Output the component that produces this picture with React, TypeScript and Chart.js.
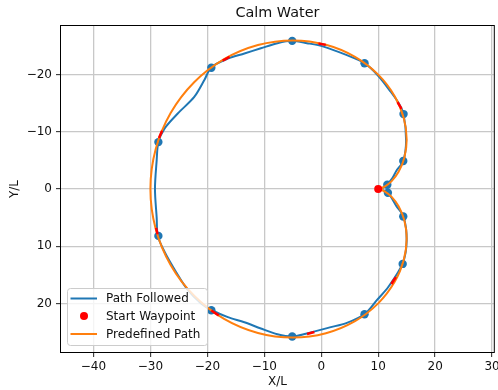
import React, { useEffect, useRef } from "react";
import { Chart, registerables } from "chart.js";

Chart.register(...registerables);

// Axis ticks (X/L, Y/L)
const xTicks = [-40, -30, -20, -10, 0, 10, 20, 30];
const yTicks = [-20, -10, 0, 10, 20];
const xRange = [-45.7, 30.3];
const yRange = [-28.5, 28.5];

// Predefined path
const predefinedX = [
  10.0, 10.3, 11.13, 12.32, 13.58, 14.59, 15.0, 14.5, 12.87, 10.0, 5.93, 0.82, -5.0,
  -11.12, -17.06, -22.32, -26.45, -29.09, -30.0, -29.09, -26.45, -22.32, -17.06, -11.12,
  -5.0, 0.82, 5.93, 10.0, 12.87, 14.5, 15.0, 14.59, 13.58, 12.32, 11.13, 10.3, 10.0,
];
const predefinedY = [
  0.0, -0.05, -0.41, -1.34, -3.01, -5.47, -8.66, -12.37, -16.28, -20.0, -23.11, -25.22,
  -25.98, -25.17, -22.7, -18.66, -13.27, -6.89, 0.0, 6.89, 13.27, 18.66, 22.7, 25.17,
  25.98, 25.22, 23.11, 20.0, 16.28, 12.37, 8.66, 5.47, 3.01, 1.34, 0.41, 0.05, 0.0,
];

// Path followed
const followedX = [
  10.0, 11.0, 11.6, 12.5, 13.2, 14.4, 14.9, 14.45, 13.6, 12.2, 10.0, 7.6, 4.5, 0.4, -2.5,
  -5.1, -7.7, -10.6, -13.5, -16.4, -19.3, -20.5, -22.3, -25.2, -27.5, -28.6, -28.9, -29.2,
  -28.9, -28.7, -27.5, -25.5, -23.4, -21.1, -19.2, -16.4, -13.5, -10.6, -7.7, -5.1, -2.7,
  1.5, 4.5, 7.7, 9.8, 11.8, 14.3, 15.0, 14.45, 13.2, 11.7, 10.8,
];
const followedY = [
  0.0, -0.3, -0.8, -1.9, -3.2, -4.9, -8.5, -13.1, -15.0, -17.0, -19.8, -22.0, -23.4, -24.9,
  -25.5, -25.9, -25.5, -24.6, -23.7, -22.8, -21.3, -19.1, -16.1, -13.2, -10.6, -8.2, -5.0,
  0.0, 5.0, 8.2, 11.0, 14.5, 17.7, 20.0, 21.2, 22.4, 23.3, 24.4, 25.4, 25.8, 25.3, 24.2,
  23.4, 21.8, 19.4, 17.1, 13.0, 9.0, 4.8, 3.0, 0.6, 0.2,
];

// Waypoints along the route
const waypointX = [11.6, 14.4, 14.45, 7.6, -5.1, -19.3, -28.6, -28.6, -19.3, -5.1, 7.6, 14.3, 14.4, 11.7];
const waypointY = [-0.75, -4.9, -13.1, -22.0, -25.9, -21.2, -8.2, 8.2, 21.2, 25.8, 21.9, 13.1, 4.8, 0.65];

const startX = [10.0];
const startY = [0.0];

// Short red segments on the route: [x1, y1, x2, y2]
const redMarks: number[][] = [
  [-17.3, -22.45, -16.1, -23.1],
  [-0.5, -25.45, 0.8, -25.2],
  [13.4, -15.2, 14.1, -14.0],
  [-28.5, -8.9, -27.95, -10.2],
  [-29.0, 6.8, -28.75, 7.9],
  [-19.3, 21.25, -18.0, 22.1],
  [-2.5, 25.35, -1.2, 25.0],
  [12.3, 16.6, 13.1, 15.4],
];

const BLUE = "#1f77b4";
const ORANGE = "#ff7f0e";
const RED = "#ff0000";
const FONT = "'DejaVu Sans', sans-serif";
const TEXT = "#111111";

const legendItems = [
  { label: "Path Followed", kind: "line", color: BLUE },
  { label: "Start Waypoint", kind: "dot", color: RED },
  { label: "Predefined Path", kind: "line", color: ORANGE },
];

const fmt = (v: number) => (v < 0 ? "\u2212" + Math.abs(v) : String(v));

const pts = (xs: number[], ys: number[]) => xs.map((x, i) => ({ x, y: ys[i] }));

const decorations = {
  id: "decorations",
  afterDraw(chart: any) {
    const { ctx, chartArea } = chart;
    const { left, right, top, bottom } = chartArea;
    ctx.save();

    // legend box
    const lx = 67, ly = 288.5, lw = 140, lh = 57;
    ctx.beginPath();
    ctx.roundRect(lx + 0.5, ly, lw, lh, 3);
    ctx.fillStyle = "rgba(255,255,255,0.8)";
    ctx.fill();
    ctx.strokeStyle = "#cccccc";
    ctx.lineWidth = 1;
    ctx.stroke();
    const rows = [298.5, 316, 334];
    ctx.font = `12px ${FONT}`;
    ctx.textBaseline = "middle";
    ctx.textAlign = "left";
    legendItems.forEach((it, i) => {
      const y = rows[i];
      if (it.kind === "line") {
        ctx.beginPath();
        ctx.moveTo(70.5, y);
        ctx.lineTo(97, y);
        ctx.strokeStyle = it.color;
        ctx.lineWidth = 2;
        ctx.stroke();
      } else {
        ctx.beginPath();
        ctx.arc(84, y, 4, 0, Math.PI * 2);
        ctx.fillStyle = it.color;
        ctx.fill();
      }
      ctx.fillStyle = TEXT;
      ctx.fillText(it.label, 106, y + 0.5);
    });

    // frame
    ctx.strokeStyle = "#000000";
    ctx.lineWidth = 1;
    ctx.strokeRect(left - 0.5, top - 0.5, right - left + 1, bottom - top + 1);

    // title and axis labels
    ctx.fillStyle = TEXT;
    ctx.textAlign = "center";
    ctx.textBaseline = "middle";
    ctx.font = `14.4px ${FONT}`;
    ctx.fillText("Calm Water", (left + right) / 2, 13.5);
    ctx.font = `12px ${FONT}`;
    ctx.fillText("X/L", (left + right) / 2, 382);
    ctx.translate(15, (top + bottom) / 2);
    ctx.rotate(-Math.PI / 2);
    ctx.fillText("Y/L", 0, 0);
    ctx.restore();
  },
};

export default function App() {
  const ref = useRef<HTMLCanvasElement | null>(null);

  useEffect(() => {
    if (!ref.current) return;
    const gridStyle = {
      color: "#c8c8c8",
      lineWidth: 1.3,
      tickLength: 5,
      tickColor: "#222222",
      tickWidth: 1,
    };
    const tickFont = { family: FONT, size: 12 };

    const markSets = redMarks.map((m) => ({
      data: [
        { x: m[0], y: m[1] },
        { x: m[2], y: m[3] },
      ],
      showLine: true,
      borderColor: RED,
      borderWidth: 2.5,
      pointRadius: 0,
      order: 0,
    }));

    const chart = new Chart(ref.current, {
      type: "scatter",
      data: {
        datasets: [
          ...markSets,
          {
            label: "Start Waypoint",
            data: pts(startX, startY),
            pointRadius: 4,
            pointBackgroundColor: RED,
            pointBorderWidth: 0,
            showLine: false,
            order: 1,
          },
          {
            label: "Predefined Path",
            data: pts(predefinedX, predefinedY),
            showLine: true,
            borderColor: ORANGE,
            borderWidth: 2,
            tension: 0.35,
            pointRadius: 0,
            order: 2,
          },
          {
            label: "Waypoints",
            data: pts(waypointX, waypointY),
            pointRadius: 4.2,
            pointBackgroundColor: BLUE,
            pointBorderWidth: 0,
            showLine: false,
            order: 3,
          },
          {
            label: "Path Followed",
            data: pts(followedX, followedY),
            showLine: true,
            borderColor: BLUE,
            borderWidth: 2,
            tension: 0.3,
            pointRadius: 0,
            order: 4,
          },
        ],
      },
      options: {
        animation: false,
        responsive: false,
        layout: { padding: { top: 26, right: 2, bottom: 0, left: 0 } },
        plugins: {
          legend: { display: false },
          title: { display: false },
          tooltip: { enabled: false },
        },
        scales: {
          x: {
            type: "linear",
            min: xRange[0],
            max: xRange[1],
            afterBuildTicks: (s: any) => {
              s.ticks = xTicks.map((value) => ({ value }));
            },
            afterFit: (s: any) => {
              s.height = 38;
              s.paddingLeft = 0;
              s.paddingRight = 0;
            },
            grid: gridStyle,
            border: { display: false },
            ticks: {
              font: tickFont,
              color: TEXT,
              padding: 3,
              maxRotation: 0,
              autoSkip: false,
              callback: (v: any) => fmt(Number(v)),
            },
          },
          y: {
            type: "linear",
            reverse: true,
            min: yRange[0],
            max: yRange[1],
            afterBuildTicks: (s: any) => {
              s.ticks = yTicks.map((value) => ({ value }));
            },
            afterFit: (s: any) => {
              s.width = 61;
              s.paddingTop = 0;
              s.paddingBottom = 0;
            },
            grid: gridStyle,
            border: { display: false },
            ticks: {
              font: tickFont,
              color: TEXT,
              padding: 4,
              autoSkip: false,
              callback: (v: any) => fmt(Number(v)),
            },
          },
        },
      },
      plugins: [decorations],
    } as any);

    return () => chart.destroy();
  }, []);

  return (
    <div style={{ position: "fixed", left: 0, top: 0, width: 498, height: 390, background: "#fff" }}>
      <canvas ref={ref} width={498} height={390} style={{ display: "block" }} />
    </div>
  );
}
